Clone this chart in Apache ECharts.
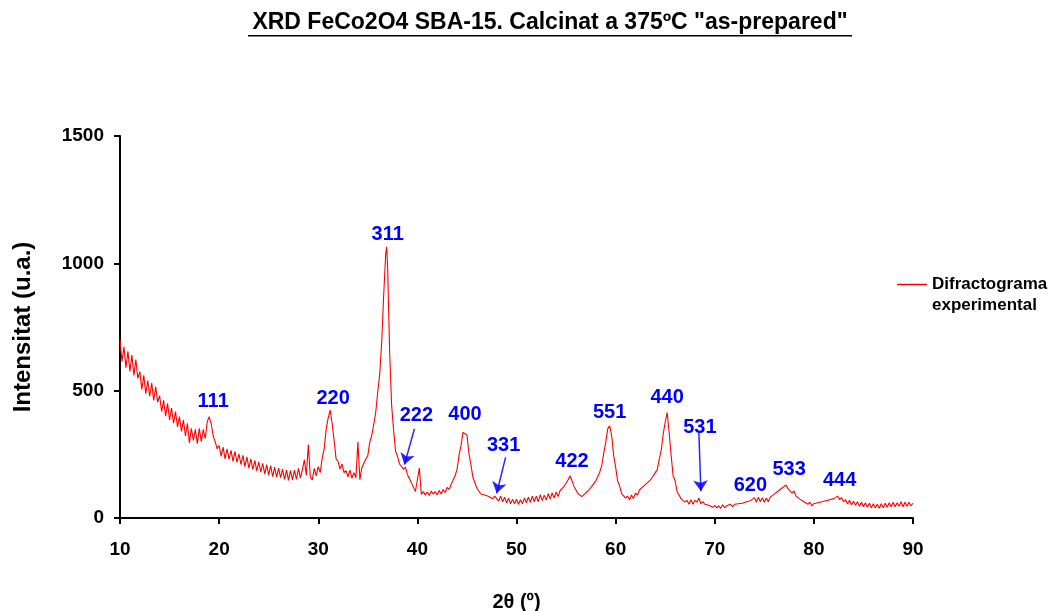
<!DOCTYPE html>
<html>
<head>
<meta charset="utf-8">
<script src="https://cdn.jsdelivr.net/npm/echarts@6/dist/echarts.min.js"></script>
<style>
  html, body { margin: 0; padding: 0; background: #fff; }
  #chart { width: 1052px; height: 611px; }
</style>
</head>
<body>
<div id="chart"></div>
<script>
// difractograma XRD llegit del grafic original (2θ, intensitat)
var twoTheta = [
  10.0, 10.2, 10.4, 10.6, 10.8, 11.0, 11.2, 11.4, 11.6, 11.8,
  12.0, 12.2, 12.4, 12.6, 12.8, 13.0, 13.2, 13.4, 13.6, 13.8,
  14.0, 14.2, 14.4, 14.6, 14.8, 15.0, 15.2, 15.4, 15.6, 15.8,
  16.0, 16.2, 16.4, 16.6, 16.8, 17.0, 17.2, 17.4, 17.6, 17.8,
  18.0, 18.2, 18.4, 18.6, 18.8, 19.0, 19.2, 19.4, 19.6, 19.8,
  20.0, 20.2, 20.4, 20.6, 20.8, 21.0, 21.2, 21.4, 21.6, 21.8,
  22.0, 22.2, 22.4, 22.6, 22.8, 23.0, 23.2, 23.4, 23.6, 23.8,
  24.0, 24.2, 24.4, 24.6, 24.8, 25.0, 25.2, 25.4, 25.6, 25.8,
  26.0, 26.2, 26.4, 26.6, 26.8, 27.0, 27.2, 27.4, 27.6, 27.8,
  28.0, 28.2, 28.4, 28.6, 28.8, 29.0, 29.2, 29.4, 29.6, 29.8,
  30.0, 30.2, 30.4, 30.6, 30.8, 31.0, 31.2, 31.4, 31.6, 31.8,
  32.0, 32.2, 32.4, 32.6, 32.8, 33.0, 33.2, 33.4, 33.6, 33.8,
  34.0, 34.2, 34.4, 34.6, 34.8, 35.0, 35.2, 35.4, 35.6, 35.8,
  36.0, 36.2, 36.4, 36.6, 36.8, 36.9, 37.0, 37.2, 37.4, 37.6, 37.8,
  38.0, 38.2, 38.4, 38.6, 38.8, 39.0, 39.2, 39.4, 39.6, 39.8,
  40.0, 40.2, 40.4, 40.6, 40.8, 41.0, 41.2, 41.4, 41.6, 41.8,
  42.0, 42.2, 42.4, 42.6, 42.8, 43.0, 43.2, 43.4, 43.6, 43.8,
  44.0, 44.2, 44.4, 44.6, 44.8, 45.0, 45.2, 45.4, 45.6, 45.8,
  46.0, 46.2, 46.4, 46.6, 46.8, 47.0, 47.2, 47.4, 47.6, 47.8,
  48.0, 48.2, 48.4, 48.6, 48.8, 49.0, 49.2, 49.4, 49.6, 49.8,
  50.0, 50.2, 50.4, 50.6, 50.8, 51.0, 51.2, 51.4, 51.6, 51.8,
  52.0, 52.2, 52.4, 52.6, 52.8, 53.0, 53.2, 53.4, 53.6, 53.8,
  54.0, 54.2, 54.4, 54.6, 54.8, 55.0, 55.2, 55.4, 55.6, 55.8,
  56.0, 56.2, 56.4, 56.6, 56.8, 57.0, 57.2, 57.4, 57.6, 57.8,
  58.0, 58.2, 58.4, 58.6, 58.8, 59.0, 59.2, 59.4, 59.6, 59.8,
  60.0, 60.2, 60.4, 60.6, 60.8, 61.0, 61.2, 61.4, 61.6, 61.8,
  62.0, 62.2, 62.4, 62.6, 62.8, 63.0, 63.2, 63.4, 63.6, 63.8,
  64.0, 64.2, 64.4, 64.6, 64.8, 65.0, 65.2, 65.4, 65.6, 65.8,
  66.0, 66.2, 66.4, 66.6, 66.8, 67.0, 67.2, 67.4, 67.6, 67.8,
  68.0, 68.2, 68.4, 68.6, 68.8, 69.0, 69.2, 69.4, 69.6, 69.8,
  70.0, 70.2, 70.4, 70.6, 70.8, 71.0, 71.2, 71.4, 71.6, 71.8,
  72.0, 72.2, 72.4, 72.6, 72.8, 73.0, 73.2, 73.4, 73.6, 73.8,
  74.0, 74.2, 74.4, 74.6, 74.8, 75.0, 75.2, 75.4, 75.6, 75.8,
  76.0, 76.2, 76.4, 76.6, 76.8, 77.0, 77.2, 77.4, 77.6, 77.8,
  78.0, 78.2, 78.4, 78.6, 78.8, 79.0, 79.2, 79.4, 79.6, 79.8,
  80.0, 80.2, 80.4, 80.6, 80.8, 81.0, 81.2, 81.4, 81.6, 81.8,
  82.0, 82.2, 82.4, 82.6, 82.8, 83.0, 83.2, 83.4, 83.6, 83.8,
  84.0, 84.2, 84.4, 84.6, 84.8, 85.0, 85.2, 85.4, 85.6, 85.8,
  86.0, 86.2, 86.4, 86.6, 86.8, 87.0, 87.2, 87.4, 87.6, 87.8,
  88.0, 88.2, 88.4, 88.6, 88.8, 89.0, 89.2, 89.4, 89.6, 89.8,
  90.0
];
var intensity = [
  700, 615, 672, 590, 655, 575, 640, 560, 622, 548,
  575, 505, 560, 488, 540, 478, 530, 462, 515, 455,
  480, 418, 462, 400, 450, 385, 432, 372, 418, 358,
  398, 340, 385, 322, 372, 295, 352, 305, 348, 292,
  352, 300, 348, 312, 378, 398, 370, 322, 300, 272,
  285, 242, 278, 232, 272, 230, 266, 222, 262, 218,
  252, 210, 246, 202, 240, 196, 232, 190, 226, 185,
  220, 180, 215, 172, 210, 168, 206, 162, 200, 160,
  196, 158, 192, 152, 188, 148, 186, 150, 188, 152,
  195, 158, 190, 228, 168, 288, 160, 150, 195, 165,
  202, 178, 236, 272, 350, 392, 424, 372, 305, 232,
  222, 192, 212, 178, 186, 162, 188, 156, 178, 158,
  298, 150, 198, 192, 232, 245, 298, 325, 368, 415,
  495, 565, 690, 875, 1035, 1065, 985, 655, 445, 345, 262,
  242, 212, 218, 192, 200, 170, 165, 138, 132, 104,
  110, 196, 92, 104, 90, 102, 88, 106, 94, 104,
  90, 108, 94, 112, 100, 120, 112, 132, 132, 166,
  190, 246, 284, 336, 342, 326, 254, 210, 160, 156,
  118, 114, 94, 98, 90, 92, 84, 88, 76, 86,
  88, 66, 86, 64, 82, 60, 78, 56, 74, 56,
  74, 54, 72, 56, 78, 60, 82, 62, 86, 64,
  86, 64, 92, 68, 90, 70, 96, 74, 98, 78,
  102, 84, 108, 104, 124, 120, 150, 166, 146, 124,
  120, 96, 102, 84, 92, 88, 106, 102, 124, 118,
  146, 148, 180, 206, 255, 296, 350, 362, 324, 246,
  200, 146, 126, 96, 100, 78, 86, 72, 90, 76,
  98, 90, 110, 104, 124, 118, 138, 134, 154, 152,
  178, 190, 230, 266, 330, 376, 414, 336, 246, 166,
  146, 104, 100, 76, 80, 62, 70, 54, 72, 54,
  70, 62, 78, 56, 64, 54, 58, 50, 56, 42,
  50, 40, 48, 38, 52, 40, 48, 42, 54, 44,
  54, 48, 56, 50, 58, 54, 64, 58, 68, 64,
  80, 62, 82, 64, 80, 62, 78, 64, 82, 76,
  94, 90, 106, 100, 118, 112, 130, 114, 118, 98,
  106, 86, 92, 74, 80, 64, 70, 54, 62, 48,
  56, 50, 60, 54, 64, 58, 68, 62, 72, 66,
  76, 70, 86, 72, 80, 64, 72, 56, 70, 52,
  66, 50, 64, 46, 62, 44, 60, 42, 58, 40,
  56, 40, 54, 38, 56, 40, 58, 42, 60, 44,
  62, 44, 60, 46, 64, 44, 62, 46, 62, 48,
  58
];

// indexs de Miller i posicio (2θ, intensitat) de cada etiqueta
var hklText = ['111', '220', '311', '222', '400', '331', '422', '551', '440', '531', '620', '533', '444'];
var hklX = [19.4, 31.5, 37.0, 39.9, 44.8, 48.7, 55.6, 59.4, 65.2, 68.5, 73.6, 77.5, 82.6];
var hklY = [459, 471, 1113, 401, 408, 283, 220, 416, 475, 357, 127, 189, 146];

// fletxes: [x inici, y inici, x final, y final]
var arrowPairs = [
  [39.7, 350, 38.7, 210],
  [48.9, 238, 48.0, 97],
  [68.4, 335, 68.6, 105]
];

var xTicks = { min: 10, max: 90, step: 10 };
var yTicks = { min: 0, max: 1500, step: 500 };

var lineData = twoTheta.map(function (x, i) { return [x, intensity[i]]; });
var labelData = hklText.map(function (t, i) { return [hklX[i], hklY[i], t]; });
var arrowData = arrowPairs.map(function (a) {
  return [{ coord: [a[0], a[1]] }, { coord: [a[2], a[3]] }];
});

var blue = '#0000ff';
var font = 'Arial, "Liberation Sans", sans-serif';

var chart = echarts.init(document.getElementById('chart'), null, { renderer: 'canvas' });
chart.setOption({
  animation: false,
  backgroundColor: '#fff',
  graphic: [
    {
      type: 'text', x: 550, y: 11,
      style: { text: 'XRD FeCo2O4 SBA-15. Calcinat a 375ºC "as-prepared"', font: 'bold 23px ' + font, fill: '#000', textAlign: 'center' }
    },
    {
      type: 'rect', shape: { x: 248, y: 35, width: 604, height: 1.6 }, style: { fill: '#000' }
    }
  ],
  legend: {
    data: ['Difractograma\nexperimental'],
    left: 897, top: 253, padding: 0,
    icon: 'rect', itemWidth: 30, itemHeight: 1.5, itemGap: 5,
    formatter: function (name) { return ' \n' + name; },
    textStyle: { fontFamily: font, fontSize: 17, fontWeight: 'bold', color: '#000', lineHeight: 21 }
  },
  grid: { left: 120, right: 139, top: 136, bottom: 93, outerBoundsMode: 'none', containLabel: false },
  xAxis: {
    type: 'value', min: xTicks.min, max: xTicks.max, interval: xTicks.step,
    name: '2θ (º)', nameLocation: 'middle', nameGap: 74,
    nameTextStyle: { fontFamily: font, fontSize: 20, fontWeight: 'bold', color: '#000' },
    axisLine: { onZero: false, lineStyle: { color: '#000', width: 2 } },
    axisTick: { show: true, inside: false, length: 6, lineStyle: { color: '#000', width: 2 } },
    axisLabel: { margin: 22, fontFamily: font, fontSize: 19, fontWeight: 'bold', color: '#000',
      formatter: function (v) { return String(v); } },
    splitLine: { show: false }
  },
  yAxis: {
    type: 'value', min: yTicks.min, max: yTicks.max, interval: yTicks.step,
    name: 'Intensitat (u.a.)', nameLocation: 'middle', nameGap: 85,
    nameTextStyle: { fontFamily: font, fontSize: 24, fontWeight: 'bold', color: '#000' },
    axisLine: { show: true, lineStyle: { color: '#000', width: 2 } },
    axisTick: { show: true, inside: false, length: 6, lineStyle: { color: '#000', width: 2 } },
    axisLabel: { margin: 16, fontFamily: font, fontSize: 19, fontWeight: 'bold', color: '#000',
      formatter: function (v) { return String(v); } },
    splitLine: { show: false }
  },
  series: [
    {
      name: 'Difractograma\nexperimental',
      type: 'line',
      data: lineData,
      showSymbol: false,
      symbol: 'none',
      color: '#ff0000',
      lineStyle: { color: '#ff0000', width: 1.1 },
      markLine: {
        silent: true,
        symbol: ['none', 'arrow'],
        symbolSize: 11,
        label: { show: false },
        lineStyle: { color: blue, width: 1.5, type: 'solid', opacity: 0.85 },
        itemStyle: { color: blue },
        data: arrowData
      }
    },
    {
      name: 'hkl',
      type: 'scatter',
      data: labelData,
      symbolSize: 1,
      itemStyle: { color: 'rgba(0,0,0,0)', opacity: 1 },
      silent: true,
      label: {
        show: true, position: 'inside', opacity: 1,
        formatter: function (p) { return p.data[2]; },
        fontFamily: font, fontSize: 20, fontWeight: 'bold', color: blue
      }
    }
  ]
});
</script>
</body>
</html>
